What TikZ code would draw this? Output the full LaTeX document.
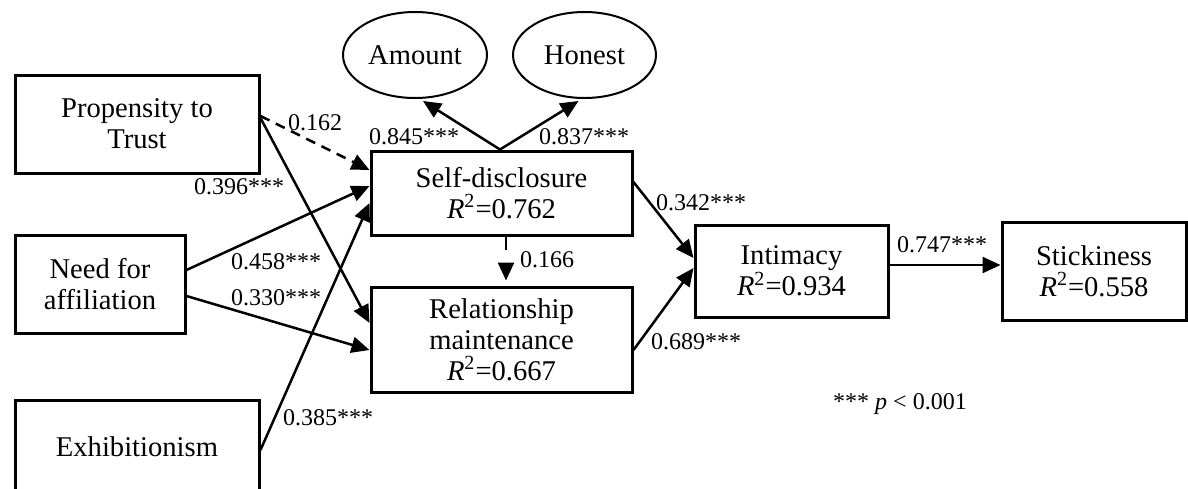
\documentclass[tikz,border=0pt]{standalone}
\usepackage{fontspec}
\setmainfont{Liberation Serif}
\usetikzlibrary{arrows.meta,shapes.geometric}
\begin{document}
\begin{tikzpicture}[x=0.5pt,y=-0.5pt,
  box/.style={draw,line width=1.5pt,inner sep=0pt,align=center,font=\fontsize{14.3}{15.5}\selectfont},
  oval/.style={draw,ellipse,line width=1pt,inner sep=0pt,font=\fontsize{14.3}{15.5}\selectfont},
  conn/.style={line width=1.25pt,-{Triangle[length=9pt,width=8pt]}},
  ns/.style={conn,dash pattern=on 5pt off 3.5pt},
  lab/.style={inner sep=0pt,font=\fontsize{12}{14}\selectfont}]
\clip (0,0) rectangle (1188,488);
% nodes
\node[box,minimum width=122pt,minimum height=49pt] (prop) at (137,124) {Propensity to\\Trust};
\node[box,minimum width=85pt,minimum height=49pt] (nfa) at (100,284) {Need for\\affiliation};
\node[box,minimum width=122pt,minimum height=47pt] (exh) at (137,447) {Exhibitionism};
\node[box,minimum width=130.5pt,minimum height=42pt] (sd) at (501.5,193) {Self-disclosure\\\textit{R}\textsuperscript{2}=0.762};
\node[box,minimum width=130.5pt,minimum height=52.5pt] (rm) at (501.5,339.5) {Relationship\\maintenance\\\textit{R}\textsuperscript{2}=0.667};
\node[box,minimum width=96.5pt,minimum height=46pt] (int) at (791.5,271) {Intimacy\\\textit{R}\textsuperscript{2}=0.934};
\node[box,minimum width=92pt,minimum height=49pt] (stk) at (1094,271) {Stickiness\\\textit{R}\textsuperscript{2}=0.558};
\node[oval,minimum width=72pt,minimum height=43pt] (amt) at (415,55) {Amount};
\node[oval,minimum width=71.5pt,minimum height=43pt] (hon) at (584.5,55) {Honest};
% connectors
\draw[ns] ([yshift=4pt]prop.east) -- ([yshift=11.5pt]sd.west);
\draw[conn] ([yshift=3pt]prop.east) -- ([yshift=8.25pt]rm.west);
\draw[conn] ([yshift=7pt]nfa.east) -- ([yshift=3.5pt]sd.west);
\draw[conn] ([yshift=-6pt]nfa.east) -- ([yshift=-5.25pt]rm.west);
\draw[conn] ([yshift=-1.5pt]exh.east) -- ([yshift=-5pt]sd.west);
\draw[conn] ([xshift=-0.75pt]sd.north) -- ([xshift=4pt,yshift=-1pt]amt.south);
\draw[conn] ([xshift=-0.75pt]sd.north) -- ([xshift=-3pt,yshift=-1pt]hon.south);
\draw[conn,dash pattern=on 6.5pt off 20pt] ([xshift=2.25pt]sd.south) -- ([xshift=2.25pt,yshift=2.5pt]rm.north);
\draw[conn] ([yshift=5.5pt]sd.east) -- ([yshift=6.5pt]int.west);
\draw[conn] ([yshift=-5.25pt]rm.east) -- ([yshift=1.5pt]int.west);
\draw[conn] ([yshift=3pt]int.east) -- ([yshift=3pt]stk.west);
% labels
\node[lab] (l162) at (315,123) {0.162};
\node[lab] (l396) at (239,187) {0.396***};
\node[lab] (l845) at (414,137) {0.845***};
\node[lab] (l837) at (584,137) {0.837***};
\node[lab] (l458) at (276,262) {0.458***};
\node[lab] (l330) at (276,298) {0.330***};
\node[lab] (l385) at (328,418) {0.385***};
\node[lab] (l166) at (547,260) {0.166};
\node[lab] (l342) at (701,203) {0.342***};
\node[lab] (l689) at (696,342) {0.689***};
\node[lab] (l747) at (942,245) {0.747***};
\node[lab,anchor=base] (pv) at (900,409) {*** \textit{p} < 0.001};
\end{tikzpicture}
\end{document}
